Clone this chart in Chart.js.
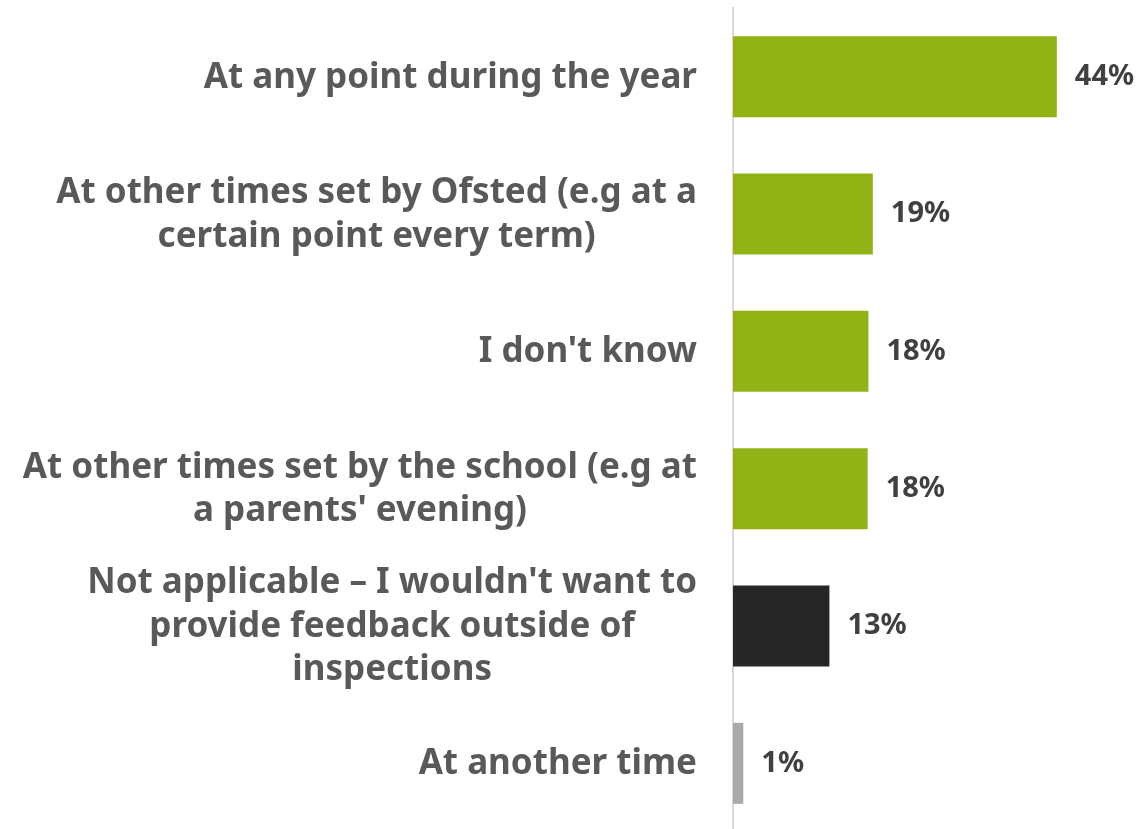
<!DOCTYPE html>
<html>
<head>
<meta charset="utf-8">
<script src="https://cdn.jsdelivr.net/npm/chart.js@4/dist/chart.umd.min.js"></script>
<style>
  html, body { margin: 0; padding: 0; background: #fff; overflow: hidden; }
  #chart-container { position: relative; width: 1137px; height: 832px; }
</style>
</head>
<body>
<div id="chart-container"><canvas id="chart"></canvas></div>
<script>
const categories = [
    ['At any point during the year'],
    ['At other times set by Ofsted (e.g at a', 'certain point every term)'],
    ["I don't know"],
    ['At other times set by the school (e.g at', "a parents' evening)"],
    ["Not applicable \u2013 I wouldn't want to", 'provide feedback outside of', 'inspections'],
    ['At another time']
];
const values = [44, 19, 18.4, 18.3, 13.1, 1.4];
const valueLabels = ['44%', '19%', '18%', '18%', '13%', '1%'];
const barColors = ['#92b316', '#92b316', '#92b316', '#92b316', '#262626', '#aaaaaa'];

const FONT = '"Noto Sans", sans-serif';

// category labels: block right-aligned, lines centred inside the block
const labelPlugin = {
    id: 'labels',
    afterDraw(c) {
        const ctx = c.ctx;
        const yScale = c.scales.y;
        const meta = c.getDatasetMeta(0);
        ctx.save();
        ctx.font = 'bold 35px ' + FONT;
        ctx.textBaseline = 'middle';
        ctx.textAlign = 'center';
        ctx.fillStyle = '#595959';
        const lineH = 43.5;
        const rightEdge = c.chartArea.left - 36;
        categories.forEach((lines, i) => {
            const cy = yScale.getPixelForTick(i) + 1;
            const maxW = Math.max(...lines.map(l => ctx.measureText(l).width));
            const cx = rightEdge - maxW / 2;
            const top = cy - (lines.length - 1) * lineH / 2;
            lines.forEach((l, j) => ctx.fillText(l, cx, top + j * lineH));
        });
        // value labels
        ctx.textAlign = 'left';
        ctx.fillStyle = '#404040';
        ctx.font = 'bold 29px ' + FONT;
        meta.data.forEach((bar, i) => {
            ctx.fillText(valueLabels[i], bar.x + 18, bar.y);
        });
        ctx.restore();
    }
};

const chart = document.getElementById('chart').getContext('2d');
const myChart = new Chart(chart, {
    type: 'bar',
    data: {
        labels: categories,
        datasets: [{
            data: values,
            backgroundColor: barColors,
            borderWidth: 0,
            barPercentage: 0.59,
            categoryPercentage: 1
        }]
    },
    options: {
        indexAxis: 'y',
        responsive: true,
        maintainAspectRatio: false,
        animation: false,
        layout: { padding: { top: 8, right: 36, bottom: 0, left: 0 } },
        plugins: {
            legend: { display: false },
            tooltip: { enabled: false }
        },
        scales: {
            x: {
                display: false,
                min: 0,
                max: 50
            },
            y: {
                grid: { display: false, drawTicks: false },
                border: { display: true, color: '#d9d9d9', width: 2 },
                ticks: { display: false },
                afterFit(scale) { scale.width = 733; }
            }
        }
    },
    plugins: [labelPlugin]
});
</script>
</body>
</html>
